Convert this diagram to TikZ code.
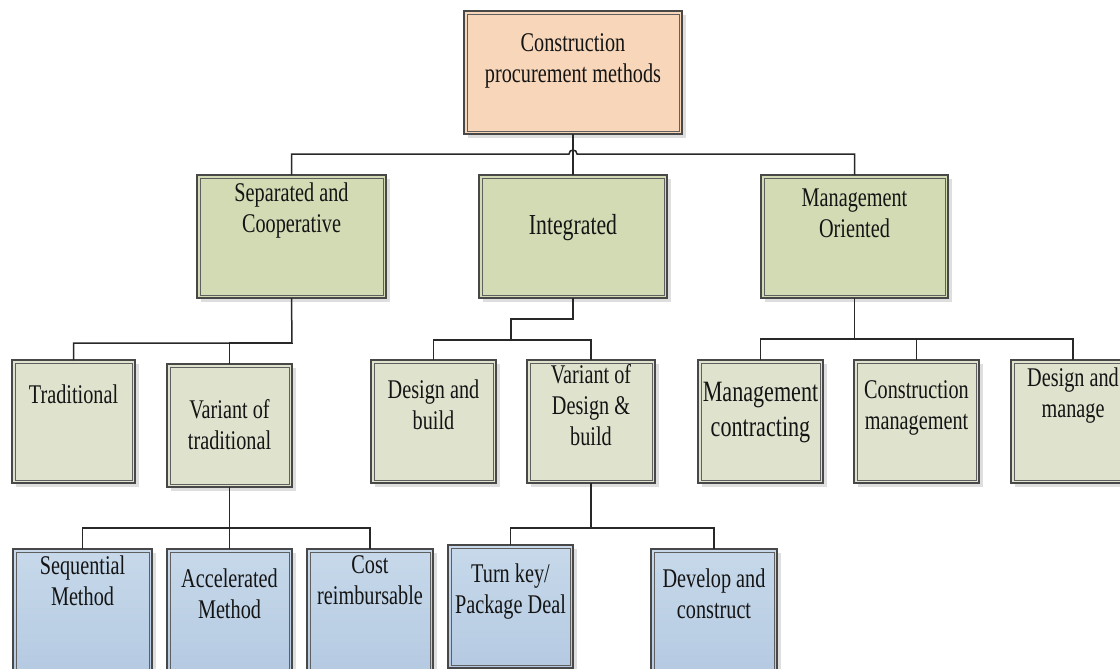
\documentclass[tikz,border=0pt]{standalone}
\usepackage{fontspec}
\setmainfont{Liberation Serif}[FakeStretch=0.75]
\usetikzlibrary{calc}

\definecolor{peach}{RGB}{248,214,185}
\definecolor{greenA}{RGB}{211,219,181}
\definecolor{greenB}{RGB}{223,227,206}
\definecolor{blueA}{RGB}{199,217,234}
\definecolor{blueB}{RGB}{181,202,226}
\definecolor{bordc}{RGB}{72,72,72}
\definecolor{innerc}{RGB}{95,95,95}
\definecolor{shadowc}{RGB}{222,222,222}
\definecolor{connc}{RGB}{40,40,40}
\definecolor{textc}{RGB}{20,20,20}

\tikzset{
  boxbase/.style={draw=bordc, line width=1.1pt, inner sep=0pt, outer sep=0pt},
  rootbox/.style={boxbase, fill=peach},
  mainbox/.style={boxbase, fill=greenA},
  subbox/.style={boxbase, fill=greenB},
  leafbox/.style={boxbase, top color=blueA, bottom color=blueB},
  innerline/.style={draw=innerc, line width=0.8pt},
  lbltxt/.style={anchor=base, align=center, inner sep=0pt, text=textc,
                 font=\fontsize{27}{31}\selectfont},
  conn/.style={draw=connc, line width=1.5pt},
}

% #1 name, #2 style, #3 left, #4 top, #5 right, #6 bottom
\newcommand\procbox[6]{%
  \fill[shadowc] ({#3+4},{#4+4}) rectangle ({#5+4},{#6+4});
  \node[#2, minimum width={#5-#3}, minimum height={#6-#4}] (#1)
        at ({(#3+#5)/2},{(#4+#6)/2}) {};
  \draw[innerline] ([shift={(3,3)}]#1.north west) rectangle ([shift={(-3,-3)}]#1.south east);
}

\begin{document}
\begin{tikzpicture}[x=1pt,y=-1pt]
\useasboundingbox (0,0) rectangle (1120,669);
\fill[white] (0,0) rectangle (1120,669);
\clip (0,0) rectangle (1120,669);

% boxes
\procbox{root}{rootbox}{464}{11}{682}{134}
\procbox{sep}{mainbox}{197}{175}{386}{298}
\procbox{int}{mainbox}{479}{175}{667}{298}
\procbox{mgmt}{mainbox}{761}{175}{948}{298}

\procbox{trad}{subbox}{12}{360}{135}{483}
\procbox{vtrad}{subbox}{167}{364}{292}{487}
\procbox{db}{subbox}{371}{360}{496}{483}
\procbox{vdb}{subbox}{527}{360}{655}{483}
\procbox{mc}{subbox}{698}{360}{823}{483}
\procbox{cm}{subbox}{854}{360}{979}{483}
\procbox{dm}{subbox}{1011}{360}{1135}{483}

\procbox{seq}{leafbox}{13}{549}{152}{672}
\procbox{acc}{leafbox}{167}{549}{292}{672}
\procbox{cost}{leafbox}{307}{549}{433}{672}
\procbox{tk}{leafbox}{448}{545}{573}{668}
\procbox{dc}{leafbox}{651}{549}{777}{672}

% labels
\node[lbltxt] (root-t) at (573,82) {Construction\\procurement methods};
\node[lbltxt] (sep-t) at (291.5,232) {Separated and\\Cooperative};
\node[lbltxt, font=\fontsize{29}{33}\selectfont] (int-t) at (573,234) {Integrated};
\node[lbltxt] (mgmt-t) at (854.5,237) {Management\\Oriented};
\node[lbltxt] (trad-t) at (73.5,403) {Traditional};
\node[lbltxt] (vtrad-t) at (229.5,449) {Variant of\\traditional};
\node[lbltxt] (db-t) at (433.5,429) {Design and\\build};
\node[lbltxt] (vdb-t) at (591,445) {Variant of\\Design \&\\build};
\node[lbltxt, font=\fontsize{29.5}{35}\selectfont] (mc-t) at (760.5,436) {Management\\contracting};
\node[lbltxt] (cm-t) at (916.5,429) {Construction\\management};
\node[lbltxt] (dm-t) at (1073,417) {Design and\\manage};
\node[lbltxt] (seq-t) at (82.5,605) {Sequential\\Method};
\node[lbltxt] (acc-t) at (229.5,618) {Accelerated\\Method};
\node[lbltxt] (cost-t) at (370,604) {Cost\\reimbursable};
\node[lbltxt] (tk-t) at (510.5,613) {Turn key/\\Package Deal};
\node[lbltxt] (dc-t) at (714,618) {Develop and\\construct};

% connectors: root level (bus hops over the root-to-integrated line)
\coordinate (hop) at (573,154);
\draw[conn] (root.south) -- (int.north);
\draw[conn] (sep.north) -- (sep.north |- hop) -- ([xshift=-4]hop)
  .. controls +(0,-5.3) and +(0,-5.3) .. ([xshift=4]hop)
  -- (mgmt.north |- hop) -- (mgmt.north);

% separated and cooperative
\coordinate (sepbus) at (292,343);
\draw[conn] (sep.south) -- (sepbus) -| (trad.north);
\draw[conn] (sepbus) -| (vtrad.north);

% variant of traditional
\coordinate (vtbus) at (229.5,528);
\draw[conn] (vtrad.south) -- (vtbus) -| (seq.north);
\draw[conn] (vtbus) -| (cost.north);
\draw[conn] (vtbus) -- (acc.north);

% integrated
\coordinate (intbend) at (511,319);
\coordinate (intbus) at (511,340);
\draw[conn] (int.south) |- (intbend) -- (intbus) -| (db.north);
\draw[conn] (intbus) -| (vdb.north);

% variant of design & build
\coordinate (vdbbus) at (591,528);
\draw[conn] (vdb.south) -- (vdbbus) -| (tk.north);
\draw[conn] (vdbbus) -| (dc.north);

% management oriented
\coordinate (mgbus) at (854.5,339);
\draw[conn] (mgmt.south) -- (mgbus) -| (mc.north);
\draw[conn] (mgbus) -| (cm.north);
\draw[conn] (mgbus) -| (dm.north);
\end{tikzpicture}
\end{document}
